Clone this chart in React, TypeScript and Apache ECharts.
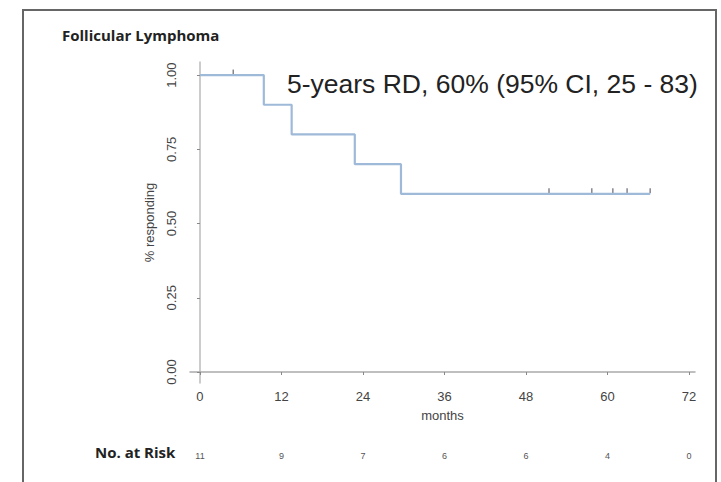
import React, { useEffect, useRef } from "react";
import * as echarts from "echarts";

const xTicks = [0, 12, 24, 36, 48, 60, 72];
const yTicks = [0, 0.25, 0.5, 0.75, 1];
const riskCounts = [11, 9, 7, 6, 6, 4, 0];
const curveMonths = [0, 9.4, 13.5, 22.8, 29.6, 66.3];
const curveValues = [1, 0.9, 0.8, 0.7, 0.6, 0.6];
const censorMonths = [4.9, 51.4, 57.7, 60.8, 62.9, 66.3];
const censorValues = [1, 0.6, 0.6, 0.6, 0.6, 0.6];

export default function App() {
  const ref = useRef<HTMLDivElement>(null);
  useEffect(() => {
    const chart = echarts.init(ref.current!, null, { renderer: "svg" });
    const xMin = -1.47, xMax = 72.9;
    chart.setOption({
      animation: false,
      backgroundColor: "#fff",
      grid: { left: 190, right: 26, top: 62, bottom: 99, containLabel: false },
      graphic: [
        { type: "rect", shape: { x: 23, y: 10, width: 693, height: 490 }, style: { fill: "none", stroke: "#666", lineWidth: 2 } },
        { type: "text", left: 62, top: 27, style: { text: "Follicular Lymphoma", font: "bold 15px 'Open Sans'", fill: "#222" } },
        { type: "text", left: 95, top: 444, style: { text: "No. at Risk", font: "bold 15px 'Open Sans'", fill: "#222" } },
        { type: "text", left: 287, top: 70, style: { text: "5-years RD, 60% (95% CI, 25 - 83)", font: "26.5px 'Liberation Sans', Arial", fill: "#222" } },
      ],
      xAxis: [
        {
          type: "value", min: xMin, max: xMax,
          axisLine: { show: true, lineStyle: { color: "#aaa", width: 1.5 } },
          axisTick: { show: true, length: 3, customValues: xTicks, lineStyle: { color: "#888" } },
          axisLabel: { customValues: xTicks, color: "#444", fontSize: 13, fontFamily: "'Liberation Sans', Arial", margin: 7 },
          splitLine: { show: false },
          name: "months", nameLocation: "middle", nameGap: 26,
          nameTextStyle: { color: "#444", fontSize: 13, fontFamily: "'Liberation Sans', Arial" },
        },
        {
          type: "value", min: xMin, max: xMax, position: "bottom", offset: 60,
          axisLine: { show: false }, axisTick: { show: false }, splitLine: { show: false },
          axisLabel: {
            customValues: xTicks, color: "#555", fontSize: 9, fontFamily: "'Liberation Sans', Arial",
            formatter: (v: number) => String(riskCounts[xTicks.indexOf(v)] ?? ""),
          },
        },
      ],
      yAxis: {
        type: "value", min: -0.037, max: 1.044,
        axisLine: { show: true, lineStyle: { color: "#bbb", width: 1.5 } },
        axisTick: { show: true, length: 3, customValues: yTicks, lineStyle: { color: "#888" } },
        axisLabel: {
          customValues: yTicks, rotate: 90, color: "#444", fontSize: 13, fontFamily: "'Liberation Sans', Arial", margin: 12,
          formatter: (v: number) => v.toFixed(2),
        },
        splitLine: { show: false },
        name: "% responding", nameLocation: "middle", nameGap: 34,
        nameTextStyle: { color: "#444", fontSize: 13, fontFamily: "'Liberation Sans', Arial" },
      },
      series: [
        {
          type: "line", step: "end", symbol: "none",
          data: curveMonths.map((m, i) => [m, curveValues[i]]),
          lineStyle: { color: "#9fbad8", width: 2.2 },
        },
        {
          type: "scatter", symbol: "rect", symbolSize: [1.5, 5], symbolOffset: [0, -3],
          data: censorMonths.map((m, i) => [m, censorValues[i]]),
          itemStyle: { color: "#667" },
        },
      ],
    });
    return () => chart.dispose();
  }, []);
  return <div ref={ref} style={{ width: 721, height: 482, position: "absolute", left: 0, top: 0 }} />;
}
